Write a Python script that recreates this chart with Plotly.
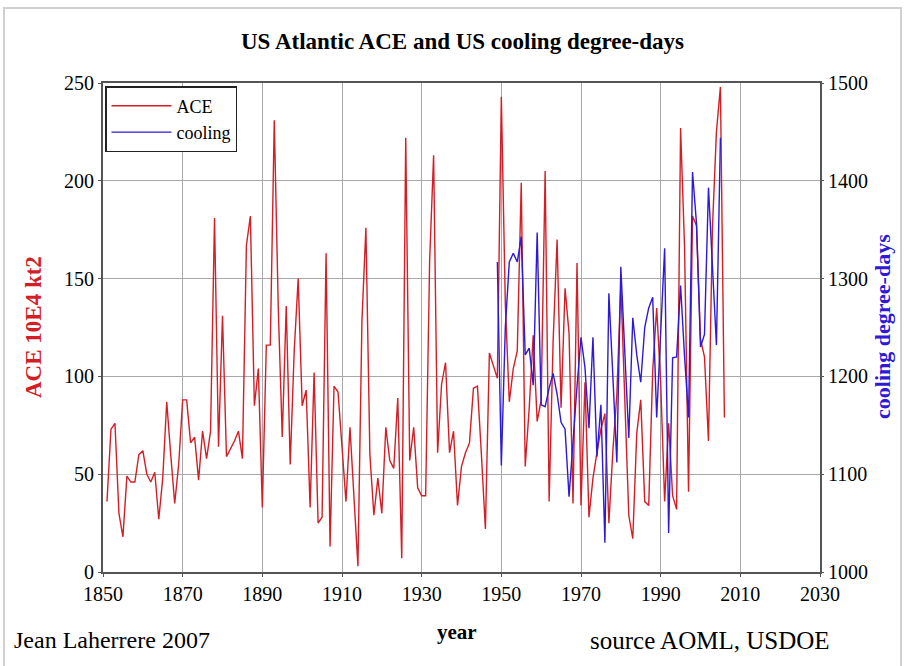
import plotly.graph_objects as go

# ---- data ----
ace_years = list(range(1851, 2007))
ace_values = [
    36, 73, 76, 30, 18, 49, 46, 46, 60, 62,          # 1851-1860
    50, 46, 51, 27, 48, 87, 60, 35, 55, 88,          # 1861-1870
    88, 66, 69, 47, 72, 58, 72, 181, 64, 131,        # 1871-1880
    59, 63, 67, 72, 58, 167, 182, 85, 104, 33,       # 1881-1890
    116, 116, 231, 135, 69, 136, 55, 113, 150, 85,   # 1891-1900
    93, 33, 102, 25, 28, 163, 13, 95, 92, 64,        # 1901-1910
    36, 74, 36, 3, 128, 176, 60, 29, 48, 30,         # 1911-1920
    74, 57, 53, 89, 7, 222, 57, 74, 43, 39,          # 1921-1930
    39, 159, 213, 61, 96, 107, 61, 72, 34, 54,       # 1931-1940
    61, 66, 94, 95, 60, 22, 112, 106, 99, 243,       # 1941-1950
    137, 87, 104, 113, 199, 54, 84, 121, 77, 88,     # 1951-1960
    205, 36, 118, 170, 84, 145, 122, 35, 158, 34,    # 1961-1970
    97, 28, 48, 61, 73, 81, 25, 62, 91, 147,         # 1971-1980
    93, 29, 17, 71, 88, 36, 34, 103, 135, 97,        # 1981-1990
    36, 76, 39, 32, 227, 166, 41, 182, 177, 119,     # 1991-2000
    110, 67, 176, 225, 248, 79,                      # 2001-2006
]

cool_years = list(range(1949, 2006))
cool_values = [
    1317, 1109, 1250, 1317, 1326, 1317, 1343, 1222, 1229, 1191,  # 1949-1958
    1347, 1171, 1169, 1188, 1203, 1182, 1153, 1146, 1077, 1135,  # 1959-1968
    1190, 1240, 1209, 1147, 1240, 1118, 1171, 1030, 1285, 1200,  # 1969-1978
    1112, 1312, 1225, 1137, 1260, 1222, 1194, 1250, 1270, 1281,  # 1979-1988
    1158, 1240, 1331, 1040, 1219, 1220, 1293, 1220, 1158, 1409,  # 1989-1998
    1356, 1230, 1243, 1393, 1310, 1232, 1444,                    # 1999-2005
]

x_ticks = [1850, 1870, 1890, 1910, 1930, 1950, 1970, 1990, 2010, 2030]
y1_ticks = [0, 50, 100, 150, 200, 250]
y2_ticks = [1000, 1100, 1200, 1300, 1400, 1500]

RED = "rgb(212,30,38)"
BLUE = "rgb(45,25,215)"
FONT = "Liberation Serif, Times New Roman, serif"

fig = go.Figure()
fig.add_trace(go.Scatter(x=ace_years, y=ace_values, mode="lines", name="ACE",
                         line=dict(color=RED, width=1.4)))
fig.add_trace(go.Scatter(x=cool_years, y=cool_values, mode="lines", name="cooling",
                         yaxis="y2", line=dict(color=BLUE, width=1.4)))

W, H = 904, 666
L, R, T, B = 103, 84, 83, 94
pw, ph = W - L - R, H - T - B

def px(x):
    return (x - L) / pw

def py(y):
    return (H - B - y) / ph

TICKF = dict(family=FONT, size=20)

fig.update_layout(
    width=W, height=H,
    margin=dict(l=L, r=R, t=T, b=B),
    paper_bgcolor="white", plot_bgcolor="white",
    font=dict(family=FONT, size=18, color="black"),
    showlegend=True,
    legend=dict(x=px(105), y=py(86), xanchor="left", yanchor="top",
                bgcolor="white", bordercolor="#222", borderwidth=1.5,
                font=dict(family=FONT, size=18), tracegroupgap=0,
                itemwidth=60),
    xaxis=dict(range=[1850, 2030], tickvals=x_ticks, showgrid=True,
               gridcolor="#a8a8a8", gridwidth=1, zeroline=False,
               showline=True, linecolor="#555", linewidth=2, mirror=True,
               ticks="outside", ticklen=3, tickcolor="#555",
               tickfont=TICKF),
    yaxis=dict(range=[0, 250], tickvals=y1_ticks, showgrid=True,
               gridcolor="#a8a8a8", gridwidth=1, zeroline=False,
               showline=True, linecolor="#555", linewidth=2, mirror=True,
               ticks="outside", ticklen=3, tickcolor="#555",
               tickfont=TICKF),
    yaxis2=dict(range=[1000, 1500], tickvals=y2_ticks, overlaying="y",
                side="right", showgrid=False, zeroline=False,
                showline=False, ticks="outside", ticklen=3, tickcolor="#555",
                tickfont=TICKF),
)

annos = [
    dict(text="<b>US Atlantic ACE and US cooling degree-days</b>", x=px(462), y=py(42),
         font=dict(size=23)),
    dict(text="<b>ACE 10E4 kt2</b>", x=px(33), y=py(327), textangle=-90,
         font=dict(size=23, color=RED)),
    dict(text="<b>cooling degree-days</b>", x=px(882), y=py(326), textangle=-90,
         font=dict(size=22, color=BLUE)),
    dict(text="<b>year</b>", x=px(457), y=py(632), font=dict(size=21)),
    dict(text="Jean Laherrere 2007", x=px(12), y=py(640), xanchor="left",
         font=dict(size=24)),
    dict(text="source AOML, USDOE", x=px(832), y=py(640), xanchor="right",
         font=dict(size=25)),
]
for a in annos:
    a.setdefault("xanchor", "center")
    fnt = a.pop("font")
    fig.add_annotation(xref="paper", yref="paper", showarrow=False,
                       yanchor="middle", font=dict(family=FONT, **fnt), **a)

fig.add_shape(type="rect", xref="paper", yref="paper",
              x0=px(4), x1=px(901), y0=py(670), y1=py(8),
              line=dict(color="#d0d0d0", width=2), layer="below")

fig.write_html("out.html")
